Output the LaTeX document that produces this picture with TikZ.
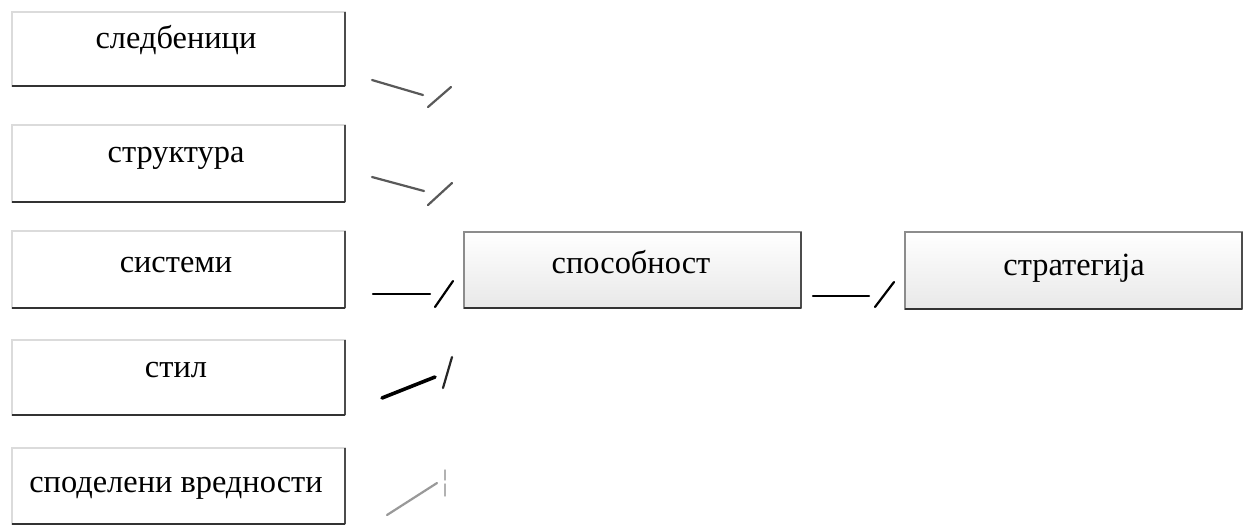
\documentclass[tikz,border=0pt]{standalone}
\usepackage{fontspec}
\setmainfont{Liberation Serif}
\begin{document}
\begin{tikzpicture}[x=0.5pt,y=-0.5pt,
  leftbox/.style={draw=black!14, line width=0.6pt, inner sep=0pt, outer sep=0pt, minimum width=166.5pt},
  midbox/.style={draw=black!45, line width=0.6pt, inner sep=0pt, outer sep=0pt, minimum width=168.5pt, minimum height=38pt, top color=white, bottom color=black!9},
  darkedge/.style={draw=black!70, line width=0.9pt},
  darkbottom/.style={draw=black!80, line width=1.2pt},
  lbl/.style={font=\fontsize{16.2}{19}\selectfont, anchor=base, inner sep=0pt},
  conn/.style={line width=1.1pt, line cap=round},
  slash/.style={line width=1.1pt, line cap=round}
]
\fill[white] (0,0) rectangle (1247,527);
\useasboundingbox (0,0) rectangle (1247,527);

% left boxes
\node[leftbox, minimum height=37pt]   (b1) at (178.5,49)   {};
\node[leftbox, minimum height=38.5pt] (b2) at (178.5,163.5) {};
\node[leftbox, minimum height=38.5pt] (b3) at (178.5,269.5) {};
\node[leftbox, minimum height=37.5pt] (b4) at (178.5,377.5) {};
\node[leftbox, minimum height=38pt]   (b5) at (178.5,486) {};
\foreach \b in {b1,b2,b3,b4,b5}{
  \draw[darkedge] (\b.north east) -- (\b.south east);
  \draw[darkbottom] (\b.south west) -- (\b.south east);
}

% middle and right boxes
\node[midbox] (cap) at (632.5,270) {};
\node[midbox, minimum height=38.5pt] (strat) at (1073.5,270.5) {};
\foreach \b in {cap,strat}{
  \draw[darkedge] (\b.north east) -- (\b.south east);
  \draw[darkbottom, line width=1.4pt] (\b.south west) -- (\b.south east);
}

% labels
\node[lbl] (t1) at (176,48)  {следбеници};
\node[lbl] (t2) at (176,162) {структура};
\node[lbl] (t3) at (176,272) {системи};
\node[lbl] (t4) at (176,377) {стил};
\node[lbl] (t5) at (176,492) {споделени вредности};
\node[lbl] (t6) at (631,273) {способност};
\node[lbl] (t7) at (1074,275) {стратегија};

% connector marks
\coordinate (c1a) at (372,80);  \coordinate (c1b) at (423,95);
\coordinate (s1a) at (428,107); \coordinate (s1b) at (451,87);
\coordinate (c2a) at (372,177); \coordinate (c2b) at (424,191);
\coordinate (s2a) at (428,205); \coordinate (s2b) at (452,183);
\coordinate (c3a) at (373,294); \coordinate (c3b) at (430,294);
\coordinate (s3a) at (435,307); \coordinate (s3b) at (453,281);
\coordinate (c4a) at (382,398); \coordinate (c4b) at (435,377);
\coordinate (s4a) at (443,388); \coordinate (s4b) at (452,357);
\coordinate (c5a) at (387,515); \coordinate (c5b) at (437,483);
\coordinate (s5a) at (445,496); \coordinate (s5b) at (445,470);
\coordinate (c6a) at (813,296); \coordinate (c6b) at (869,296);
\coordinate (s6a) at (875,307); \coordinate (s6b) at (894,282);

\draw[conn, black!65] (c1a) -- (c1b);
\draw[slash, black!65] (s1a) -- (s1b);
\draw[conn, black!65] (c2a) -- (c2b);
\draw[slash, black!65] (s2a) -- (s2b);
\draw[conn, black] (c3a) -- (c3b);
\draw[slash, black] (s3a) -- (s3b);
\draw[conn, black, line width=1.8pt] (c4a) -- (c4b);
\draw[slash, black!85] (s4a) -- (s4b);
\draw[conn, black!40] (c5a) -- (c5b);
\draw[slash, black!30, line width=0.7pt, dash pattern=on 6pt off 2pt] (s5a) -- (s5b);
\draw[conn, black] (c6a) -- (c6b);
\draw[slash, black] (s6a) -- (s6b);
\end{tikzpicture}
\end{document}
